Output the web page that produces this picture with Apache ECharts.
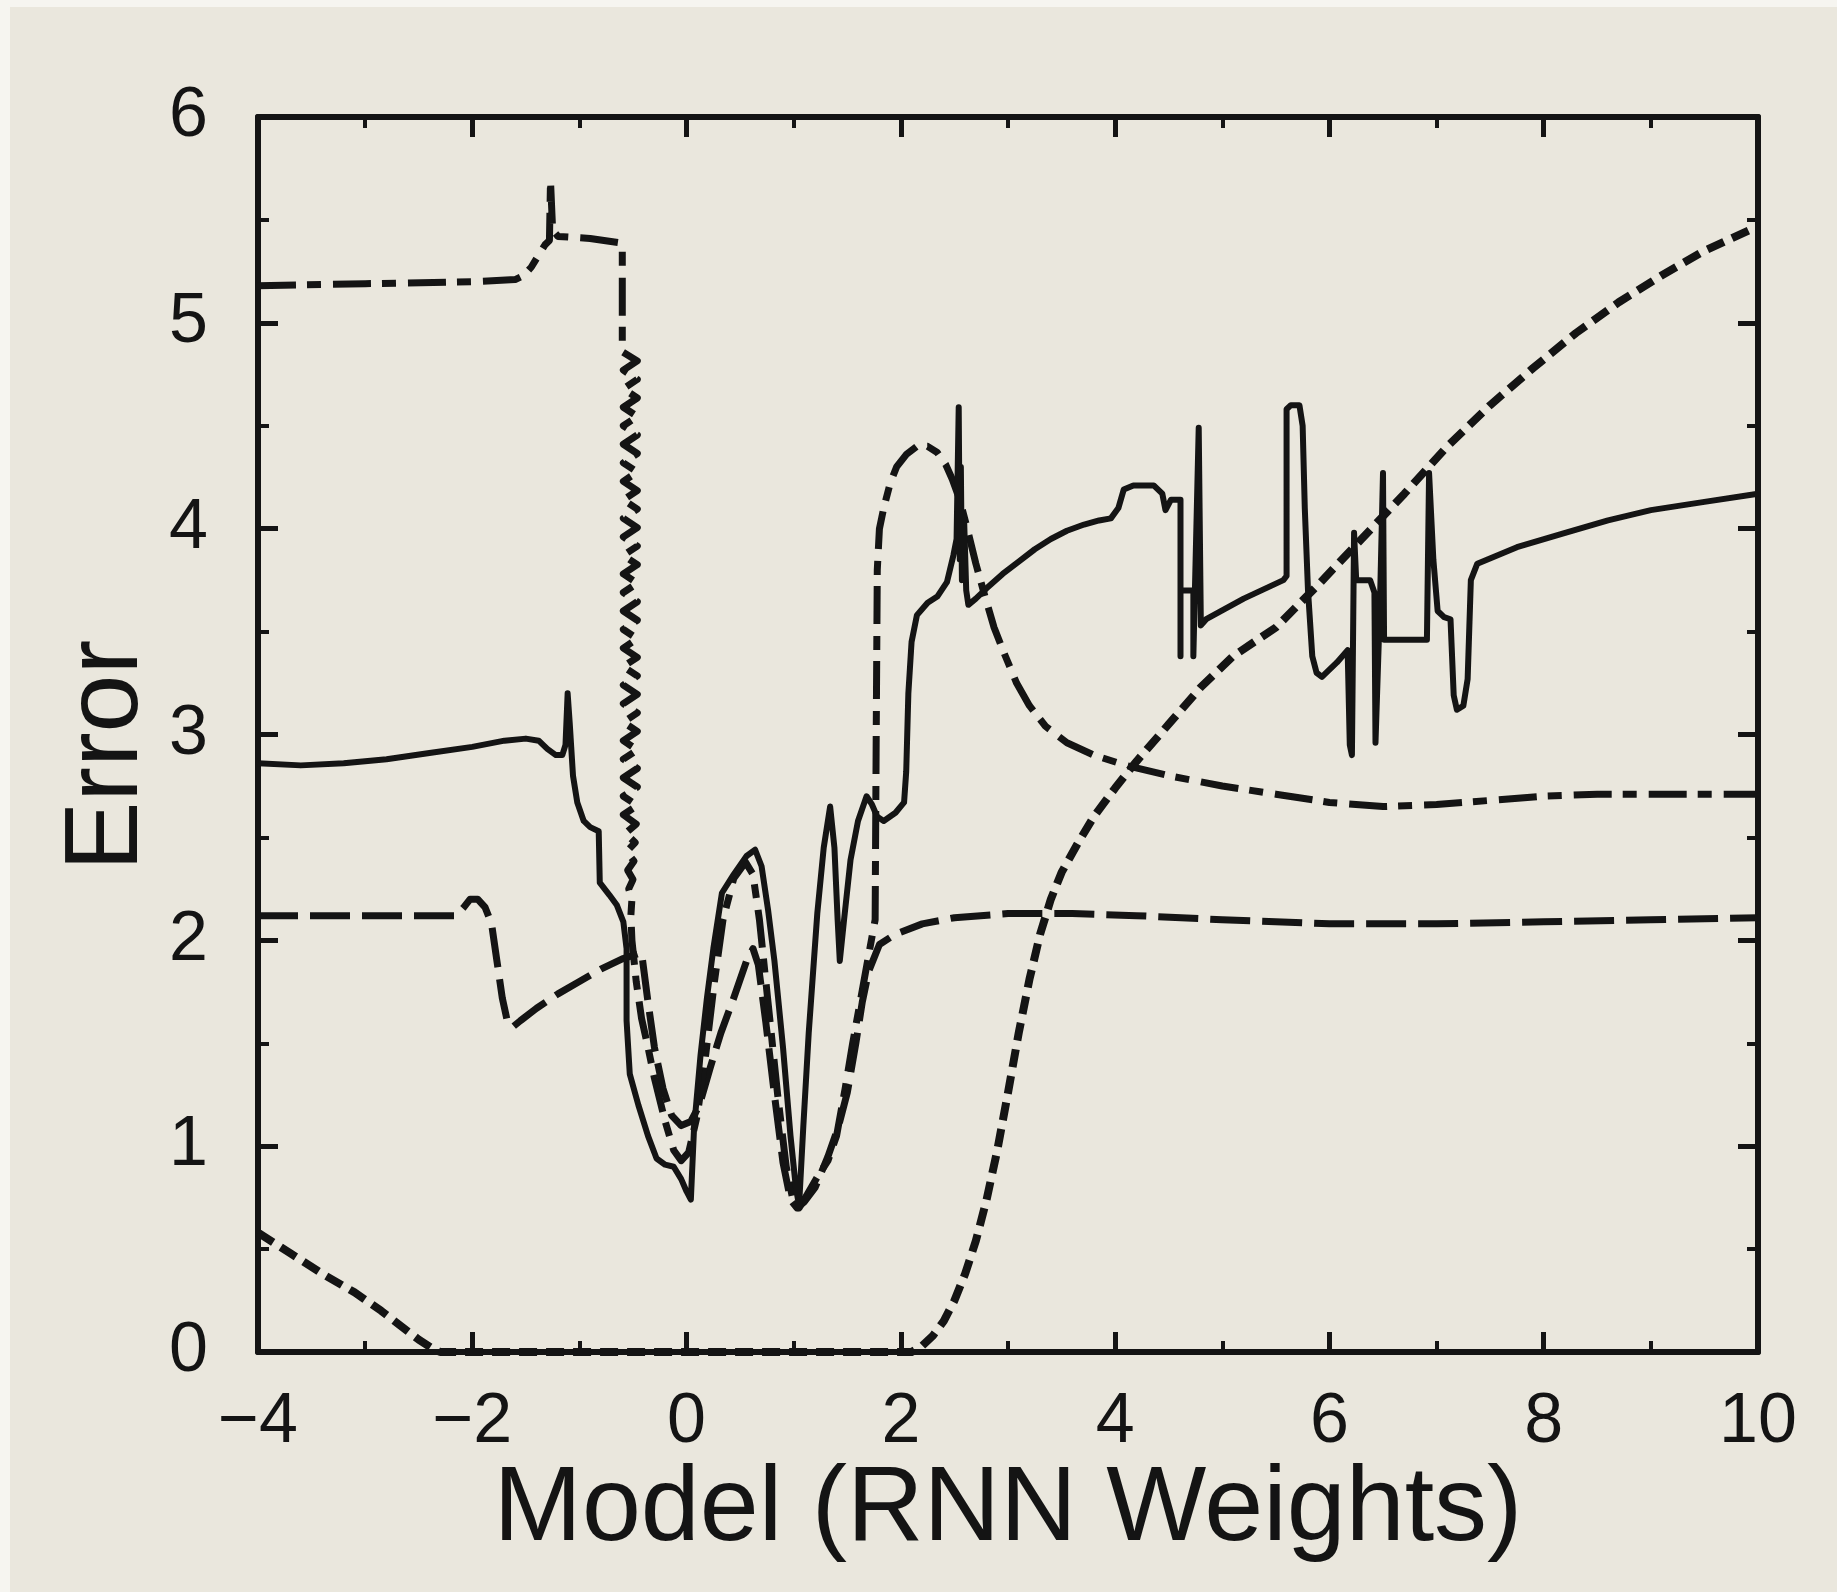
<!DOCTYPE html>
<html>
<head>
<meta charset="utf-8">
<title>Error vs Model (RNN Weights)</title>
<script src="https://cdn.jsdelivr.net/npm/echarts@6/dist/echarts.min.js"></script>
<style>
  html, body { margin: 0; padding: 0; background: #eae7dd; }
  #chart { width: 1837px; height: 1592px; }
</style>
</head>
<body>
<div id="chart"></div>
<script>
// Axis ranges and ticks
const xRange = [-4, 10];
const xStep = 2;
const yRange = [0, 6];
const yStep = 1;

// Solid curve
const solidErr = [
  [-4, 2.86], [-3.6, 2.85], [-3.2, 2.86], [-2.8, 2.88], [-2.4, 2.91], [-2.0, 2.94],
  [-1.7, 2.97], [-1.5, 2.98], [-1.38, 2.97], [-1.3, 2.93], [-1.22, 2.9], [-1.16, 2.9],
  [-1.13, 2.95], [-1.11, 3.2], [-1.09, 3.05], [-1.06, 2.8], [-1.02, 2.67], [-0.96, 2.58],
  [-0.9, 2.55], [-0.82, 2.53], [-0.81, 2.28], [-0.72, 2.22], [-0.65, 2.17], [-0.59, 2.09],
  [-0.56, 1.96], [-0.56, 1.61], [-0.53, 1.35], [-0.45, 1.2], [-0.36, 1.05], [-0.28, 0.94],
  [-0.2, 0.91], [-0.12, 0.9], [-0.05, 0.84], [0.0, 0.78], [0.04, 0.74], [0.07, 1.09],
  [0.13, 1.44], [0.19, 1.72], [0.25, 1.96], [0.33, 2.23], [0.44, 2.32], [0.56, 2.41],
  [0.64, 2.44], [0.7, 2.36], [0.76, 2.15], [0.82, 1.9], [0.9, 1.48], [0.97, 1.05],
  [1.02, 0.8], [1.05, 0.71], [1.09, 1.1], [1.14, 1.55], [1.22, 2.13], [1.28, 2.45],
  [1.34, 2.65], [1.38, 2.45], [1.41, 2.1], [1.43, 1.9], [1.47, 2.1], [1.53, 2.39],
  [1.6, 2.58], [1.68, 2.7], [1.73, 2.66], [1.78, 2.6], [1.84, 2.58], [1.95, 2.62],
  [2.03, 2.67], [2.05, 2.82], [2.07, 3.2], [2.1, 3.45], [2.15, 3.58], [2.25, 3.64],
  [2.34, 3.67], [2.43, 3.74], [2.49, 3.87], [2.52, 3.95], [2.54, 4.59], [2.55, 3.85],
  [2.56, 4.3], [2.57, 3.75], [2.59, 4.05], [2.61, 3.7], [2.63, 3.63], [2.7, 3.66],
  [2.8, 3.71], [2.95, 3.78], [3.1, 3.84], [3.25, 3.9], [3.4, 3.95], [3.55, 3.99],
  [3.71, 4.02], [3.85, 4.04], [3.96, 4.05], [4.03, 4.1], [4.08, 4.19], [4.17, 4.21],
  [4.36, 4.21], [4.44, 4.17], [4.47, 4.09], [4.52, 4.14], [4.61, 4.14], [4.61, 3.38],
  [4.61, 3.7], [4.73, 3.7], [4.73, 3.38], [4.78, 4.49], [4.8, 3.53], [4.85, 3.56],
  [5.2, 3.66], [5.57, 3.75], [5.6, 3.77], [5.6, 4.58], [5.64, 4.6], [5.72, 4.6],
  [5.75, 4.5], [5.77, 4.1], [5.8, 3.7], [5.84, 3.38], [5.88, 3.3], [5.93, 3.28],
  [6.07, 3.35], [6.17, 3.41], [6.19, 2.95], [6.21, 2.9], [6.23, 3.98], [6.25, 3.75],
  [6.38, 3.75], [6.42, 3.69], [6.43, 2.96], [6.47, 3.6], [6.5, 4.27], [6.51, 3.46],
  [6.91, 3.46], [6.93, 4.27], [6.97, 3.85], [7.01, 3.6], [7.07, 3.57], [7.13, 3.56],
  [7.16, 3.19], [7.19, 3.12], [7.25, 3.14], [7.29, 3.27], [7.32, 3.75], [7.38, 3.83],
  [7.75, 3.91], [8.2, 3.98], [8.6, 4.04], [9.0, 4.09], [9.5, 4.13], [10, 4.17]
];

// Dash-dot curve (the dense sawtooth near -0.5 is part of it)
const dashDotErr = [
  [-4, 5.18], [-3, 5.19], [-2, 5.2], [-1.6, 5.21], [-1.52, 5.23], [-1.45, 5.27],
  [-1.38, 5.33], [-1.32, 5.38], [-1.28, 5.4], [-1.27, 5.69], [-1.25, 5.45], [-1.2, 5.42],
  [-0.9, 5.41], [-0.64, 5.39], [-0.6, 5.37], [-0.6, 4.86],
  [-0.46, 4.815], [-0.59, 4.77], [-0.46, 4.725], [-0.59, 4.68], [-0.46, 4.635], [-0.59, 4.59],
  [-0.46, 4.545], [-0.59, 4.5], [-0.46, 4.455], [-0.59, 4.41], [-0.46, 4.365], [-0.59, 4.32],
  [-0.46, 4.275], [-0.59, 4.23], [-0.46, 4.185], [-0.59, 4.14], [-0.46, 4.095], [-0.59, 4.05],
  [-0.46, 4.005], [-0.59, 3.96], [-0.46, 3.915], [-0.59, 3.87], [-0.46, 3.825], [-0.59, 3.78],
  [-0.46, 3.735], [-0.59, 3.69], [-0.46, 3.645], [-0.59, 3.6], [-0.46, 3.555], [-0.59, 3.51],
  [-0.46, 3.465], [-0.59, 3.42], [-0.46, 3.375], [-0.59, 3.33], [-0.46, 3.285], [-0.59, 3.24],
  [-0.46, 3.195], [-0.59, 3.15], [-0.46, 3.105], [-0.59, 3.06], [-0.46, 3.015], [-0.59, 2.97],
  [-0.46, 2.925], [-0.59, 2.88], [-0.46, 2.835], [-0.59, 2.79], [-0.46, 2.745], [-0.59, 2.7],
  [-0.46, 2.655], [-0.59, 2.61], [-0.47, 2.565], [-0.57, 2.52], [-0.48, 2.475], [-0.56, 2.43],
  [-0.49, 2.385], [-0.55, 2.34], [-0.5, 2.295], [-0.54, 2.25], [-0.51, 2.2], [-0.52, 2.12],
  [-0.51, 2.0], [-0.47, 1.8], [-0.42, 1.62], [-0.36, 1.48], [-0.3, 1.33], [-0.2, 1.12],
  [-0.12, 0.98], [-0.05, 0.93], [0.02, 0.97], [0.1, 1.15], [0.18, 1.45], [0.26, 1.8],
  [0.34, 2.1], [0.44, 2.3], [0.55, 2.38], [0.62, 2.32], [0.68, 2.1], [0.76, 1.7],
  [0.85, 1.25], [0.93, 0.9], [1.0, 0.72], [1.05, 0.7], [1.12, 0.76], [1.22, 0.85],
  [1.32, 0.93], [1.4, 1.05], [1.48, 1.28], [1.55, 1.5], [1.62, 1.7], [1.7, 1.93],
  [1.76, 2.1], [1.77, 3.0], [1.78, 3.8], [1.8, 4.0], [1.84, 4.1], [1.9, 4.22],
  [1.96, 4.3], [2.05, 4.36], [2.15, 4.4], [2.25, 4.4], [2.34, 4.37], [2.42, 4.31],
  [2.48, 4.24], [2.55, 4.14], [2.62, 4.0], [2.7, 3.83], [2.78, 3.68], [2.87, 3.52],
  [2.96, 3.4], [3.08, 3.25], [3.2, 3.14], [3.35, 3.04], [3.55, 2.96], [3.8, 2.9],
  [4.1, 2.85], [4.5, 2.8], [5.0, 2.75], [5.5, 2.71], [6.0, 2.67], [6.5, 2.65],
  [7.0, 2.66], [7.5, 2.68], [8.0, 2.7], [8.5, 2.71], [9.0, 2.71], [10, 2.71]
];

// Long-dashed curve
const longDashErr = [
  [-4, 2.12], [-3, 2.12], [-2.15, 2.12], [-2.08, 2.16], [-2.02, 2.2], [-1.95, 2.2],
  [-1.88, 2.16], [-1.82, 2.08], [-1.77, 1.9], [-1.72, 1.72], [-1.67, 1.6], [-1.62, 1.58],
  [-1.55, 1.61], [-1.4, 1.67], [-1.2, 1.74], [-1.0, 1.8], [-0.8, 1.86], [-0.6, 1.91],
  [-0.42, 1.94], [-0.36, 1.7], [-0.3, 1.48], [-0.22, 1.28], [-0.14, 1.15], [-0.05, 1.1],
  [0.04, 1.12], [0.12, 1.2], [0.22, 1.38], [0.32, 1.55], [0.44, 1.72], [0.56, 1.9],
  [0.62, 1.96], [0.67, 1.88], [0.74, 1.6], [0.82, 1.25], [0.9, 0.92], [0.97, 0.74],
  [1.03, 0.7], [1.1, 0.73], [1.2, 0.8], [1.32, 0.95], [1.42, 1.1], [1.5, 1.26],
  [1.58, 1.5], [1.64, 1.7], [1.7, 1.85], [1.8, 1.98], [1.95, 2.03], [2.2, 2.08],
  [2.5, 2.11], [3.0, 2.13], [3.6, 2.13], [4.2, 2.12], [5.0, 2.1], [6.0, 2.08],
  [7.0, 2.08], [8.0, 2.09], [9.0, 2.1], [10, 2.11]
];

// Short-dashed curve
const shortDashErr = [
  [-4, 0.58], [-3.7, 0.48], [-3.4, 0.38], [-3.1, 0.29], [-2.85, 0.2], [-2.65, 0.12],
  [-2.5, 0.06], [-2.38, 0.02], [-2.3, 0], [2.1, 0], [2.2, 0.03], [2.3, 0.08],
  [2.4, 0.15], [2.5, 0.25], [2.6, 0.38], [2.7, 0.54], [2.8, 0.74], [2.9, 0.98],
  [3.0, 1.26], [3.1, 1.55], [3.2, 1.81], [3.3, 2.03], [3.4, 2.2], [3.5, 2.33],
  [3.65, 2.47], [3.8, 2.6], [4.0, 2.74], [4.2, 2.87], [4.5, 3.05], [4.8, 3.23],
  [5.1, 3.38], [5.5, 3.52], [5.9, 3.73], [6.3, 3.95], [6.7, 4.17], [7.1, 4.4],
  [7.5, 4.6], [7.9, 4.78], [8.3, 4.95], [8.7, 5.1], [9.1, 5.23], [9.5, 5.35], [10, 5.47]
];

const INK = '#141414';
const FONT = '"Liberation Sans", Arial, Helvetica, sans-serif';

function tickText(v) {
  return v < 0 ? '\u2212' + Math.abs(v) : String(v);
}

function frameAxis(extra) {
  return Object.assign({
    type: 'value',
    axisLine: { show: true, onZero: false, lineStyle: { color: INK, width: 6 } },
    axisTick: { show: true, inside: true, length: 20, lineStyle: { color: INK, width: 5 } },
    minorTick: { show: true, splitNumber: 2, length: 11, lineStyle: { color: INK, width: 4 } },
    splitLine: { show: false },
    minorSplitLine: { show: false }
  }, extra);
}

const chart = echarts.init(document.getElementById('chart'), null, { renderer: 'canvas' });

chart.setOption({
  animation: false,
  backgroundColor: '#eae7dd',
  graphic: [
    { type: 'rect', left: 0, top: 0, shape: { width: 1837, height: 7 }, style: { fill: '#f6f5f0' }, z: -1 },
    { type: 'rect', left: 0, top: 0, shape: { width: 10, height: 1592 }, style: { fill: '#f6f5f0' }, z: -1 }
  ],
  grid: { left: 258, right: 79, top: 117, bottom: 240, containLabel: false, outerBoundsMode: 'none' },
  xAxis: [
    frameAxis({
      position: 'bottom',
      min: xRange[0], max: xRange[1], interval: xStep,
      name: 'Model (RNN Weights)',
      nameLocation: 'middle',
      nameGap: 106,
      nameMoveOverlap: false,
      nameTextStyle: { fontFamily: FONT, fontSize: 106, color: INK },
      axisLabel: {
        show: true, margin: 36, fontFamily: FONT, fontSize: 70, color: INK,
        showMinLabel: true, showMaxLabel: true, hideOverlap: false,
        formatter: tickText
      }
    }),
    frameAxis({
      position: 'top',
      min: xRange[0], max: xRange[1], interval: xStep,
      axisLabel: { show: false }
    })
  ],
  yAxis: [
    frameAxis({
      position: 'left',
      min: yRange[0], max: yRange[1], interval: yStep,
      name: 'Error',
      nameLocation: 'middle',
      nameGap: 98,
      nameMoveOverlap: false,
      nameRotate: 90,
      nameTextStyle: { fontFamily: FONT, fontSize: 104, color: INK, padding: [0, 42, 0, 0] },
      axisLabel: {
        show: true, margin: 50, fontFamily: FONT, fontSize: 70, color: INK,
        showMinLabel: true, showMaxLabel: true, hideOverlap: false,
        formatter: tickText
      }
    }),
    frameAxis({
      position: 'right',
      min: yRange[0], max: yRange[1], interval: yStep,
      axisLabel: { show: false }
    })
  ],
  series: [
    {
      name: 'solid', type: 'line', data: solidErr, showSymbol: false, symbol: 'none',
      clip: true, silent: true, z: 5,
      lineStyle: { color: INK, width: 6, type: 'solid', join: 'round' }
    },
    {
      name: 'dash-dot', type: 'line', data: dashDotErr, showSymbol: false, symbol: 'none',
      clip: true, silent: true, z: 4,
      lineStyle: { color: INK, width: 7, type: [38, 11, 14, 12], cap: 'butt', join: 'round' }
    },
    {
      name: 'long dash', type: 'line', data: longDashErr, showSymbol: false, symbol: 'none',
      clip: true, silent: true, z: 3,
      lineStyle: { color: INK, width: 7, type: [40, 12], cap: 'butt', join: 'round' }
    },
    {
      name: 'short dash', type: 'line', data: shortDashErr, showSymbol: false, symbol: 'none',
      clip: true, silent: true, z: 3,
      lineStyle: { color: INK, width: 8, type: [18, 9], cap: 'butt', join: 'round' }
    }
  ]
});
</script>
</body>
</html>
